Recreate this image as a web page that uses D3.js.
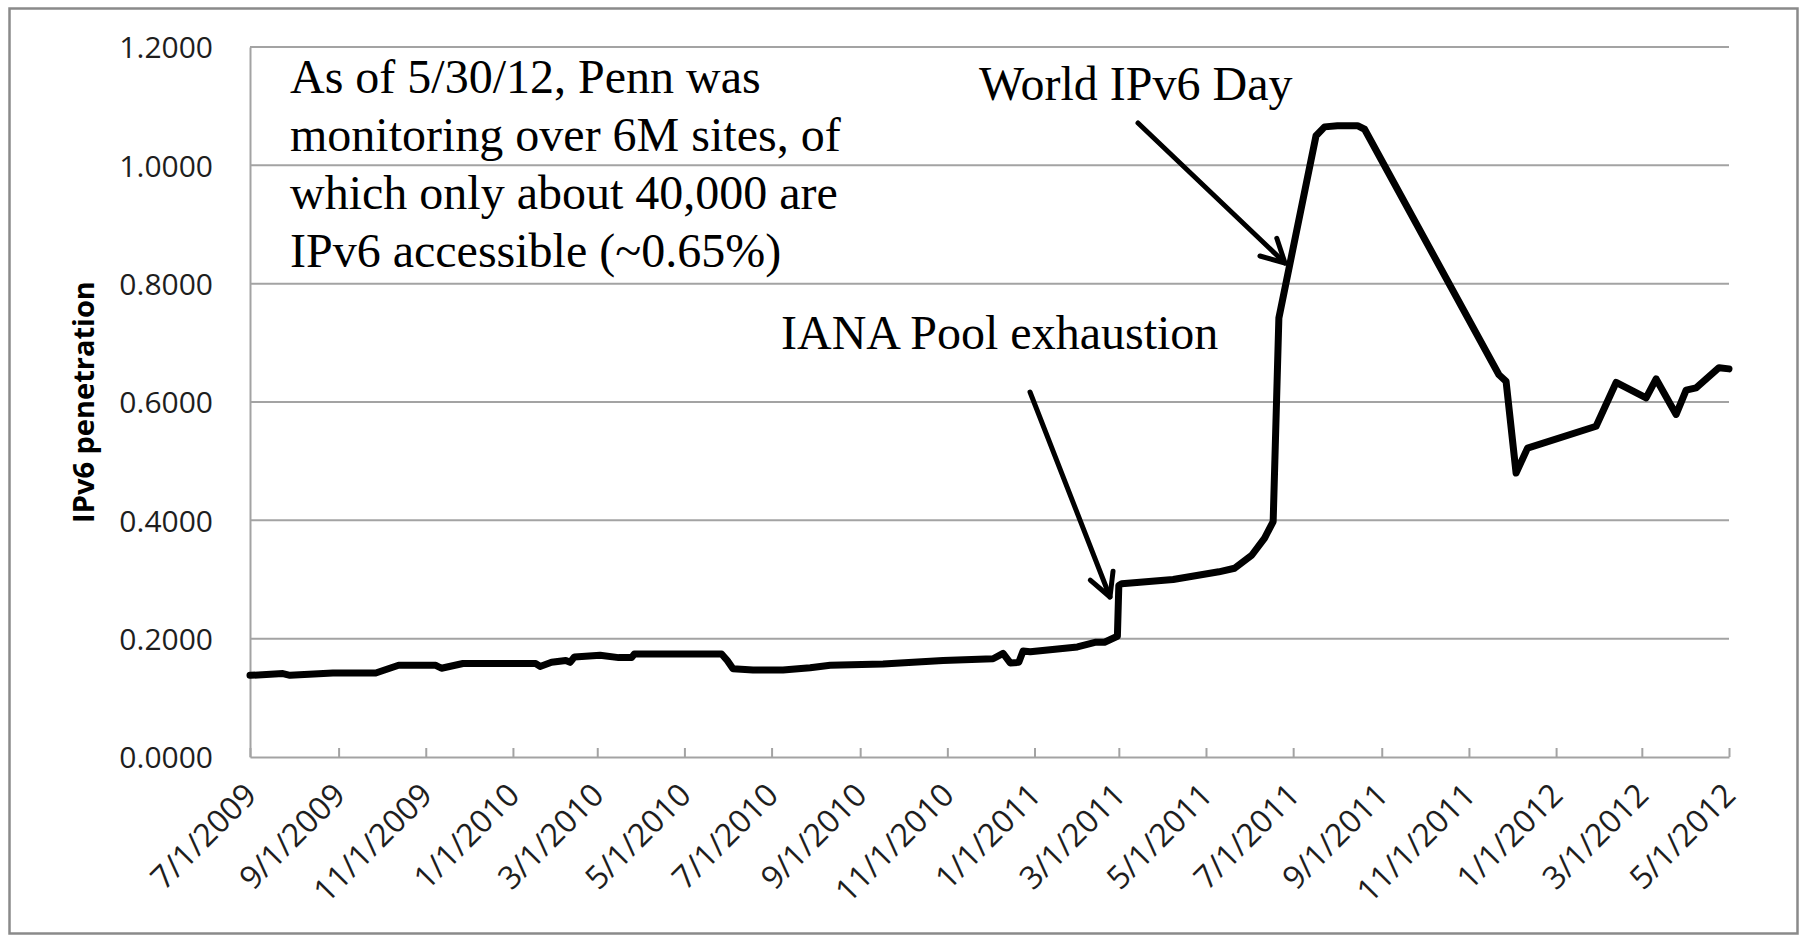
<!DOCTYPE html>
<html>
<head>
<meta charset="utf-8">
<script src="https://cdn.jsdelivr.net/npm/d3@7"></script>
<style>
  body { margin: 0; background: #fff; }
  svg { display: block; }
</style>
</head>
<body>
<svg id="chart" width="1800" height="936"></svg>
<script>
// ---------------- data ----------------
const xTickLabels = ["7/1/2009","9/1/2009","11/1/2009","1/1/2010","3/1/2010","5/1/2010",
  "7/1/2010","9/1/2010","11/1/2010","1/1/2011","3/1/2011","5/1/2011",
  "7/1/2011","9/1/2011","11/1/2011","1/1/2012","3/1/2012","5/1/2012"];
const yTickValues = [0, 0.2, 0.4, 0.6, 0.8, 1.0, 1.2];
const yTitle = "IPv6 penetration";

const dates = [
  "2009-07-01","2009-07-24","2009-07-29","2009-08-28","2009-09-27","2009-10-13",
  "2009-11-08","2009-11-12","2009-11-27","2010-01-17","2010-01-20","2010-01-28",
  "2010-02-07","2010-02-10","2010-02-13","2010-03-03","2010-03-16","2010-03-25",
  "2010-03-27","2010-05-27","2010-05-31","2010-06-04","2010-06-18","2010-07-09",
  "2010-07-28","2010-08-11","2010-09-17","2010-10-29","2010-12-03","2010-12-10",
  "2010-12-15","2010-12-21","2010-12-24","2010-12-29","2011-01-31","2011-02-13",
  "2011-02-19","2011-02-28","2011-03-01","2011-03-03","2011-04-08","2011-05-10",
  "2011-05-21","2011-06-02","2011-06-11","2011-06-17","2011-06-21","2011-07-17",
  "2011-07-23","2011-08-01","2011-08-15","2011-08-20","2011-11-22","2011-11-27",
  "2011-12-04","2011-12-12","2012-01-29","2012-02-12","2012-03-04","2012-03-11",
  "2012-03-25","2012-04-01","2012-04-08","2012-04-24","2012-05-01"];
const values = [
  0.138,0.141,0.138,0.142,0.142,0.155,
  0.155,0.150,0.158,0.158,0.153,0.160,
  0.163,0.160,0.169,0.172,0.168,0.168,
  0.174,0.174,0.163,0.149,0.147,0.147,
  0.151,0.155,0.157,0.163,0.166,0.175,
  0.159,0.160,0.179,0.178,0.186,0.194,
  0.194,0.204,0.290,0.293,0.300,0.313,
  0.319,0.341,0.370,0.398,0.742,1.050,
  1.065,1.067,1.067,1.061,0.646,0.635,
  0.480,0.522,0.559,0.633,0.607,0.639,
  0.579,0.620,0.624,0.658,0.656];

const noteLines = ["As of 5/30/12, Penn was", "monitoring over 6M sites, of",
  "which only about 40,000 are", "IPv6 accessible (~0.65%)"];
const worldLabel = "World IPv6 Day";
const ianaLabel = "IANA Pool exhaustion";

// ---------------- layout ----------------
const svg = d3.select("#chart");
const W = 1800, H = 936;
const plot = { left: 250, right: 1729, top: 47, bottom: 757 };
const gridColor = "#a3a3a3";
const tickFont = "'Open Sans', sans-serif";
const serif = "'Liberation Serif', 'Times New Roman', serif";

svg.append("rect").attr("x", 0).attr("y", 0).attr("width", W).attr("height", H).attr("fill", "#fff");
svg.append("rect").attr("x", 9.5).attr("y", 8.5).attr("width", 1788).attr("height", 925)
  .attr("fill", "none").attr("stroke", "#8a8a8a").attr("stroke-width", 2.5);

const parseTick = d3.timeParse("%m/%d/%Y");
const parseDate = d3.timeParse("%Y-%m-%d");
const tickDates = xTickLabels.map(parseTick);
const data = dates.map((d, i) => ({ date: parseDate(d), value: values[i] }));

const x = d3.scaleTime()
  .domain([tickDates[0], tickDates[tickDates.length - 1]])
  .range([plot.left, plot.right]);
const y = d3.scaleLinear().domain([0, 1.2]).range([plot.bottom, plot.top]);

// gridlines
svg.append("g").selectAll("line").data(yTickValues.filter(v => v > 0)).join("line")
  .attr("x1", plot.left).attr("x2", plot.right)
  .attr("y1", d => y(d)).attr("y2", d => y(d))
  .attr("stroke", gridColor).attr("stroke-width", 2);

// y axis
const yAxis = svg.append("g").attr("transform", `translate(${plot.left},0)`)
  .call(d3.axisLeft(y).tickValues(yTickValues).tickFormat(d3.format(".4f"))
    .tickSize(0).tickPadding(37));
yAxis.select(".domain").attr("stroke", gridColor).attr("stroke-width", 2);
yAxis.selectAll("text").attr("font-family", tickFont).attr("font-size", 30)
  .attr("fill", "#1e1e1e").attr("dy", "0.36em");

// x axis
const xAxis = svg.append("g").attr("transform", `translate(0,${plot.bottom})`)
  .call(d3.axisBottom(x).tickValues(tickDates).tickFormat((d, i) => xTickLabels[i])
    .tickSizeInner(-9).tickSizeOuter(0));
xAxis.select(".domain").attr("stroke", gridColor).attr("stroke-width", 2);
xAxis.selectAll(".tick line").attr("stroke", gridColor).attr("stroke-width", 2);
xAxis.selectAll("text")
  .attr("font-family", tickFont).attr("font-size", 32).attr("fill", "#1e1e1e")
  .attr("x", 0).attr("y", 0).attr("dy", 0)
  .attr("text-anchor", "end")
  .attr("transform", "translate(8,40) rotate(-45)");

// y title
svg.append("text")
  .attr("transform", "translate(82,402) rotate(-90)")
  .attr("text-anchor", "middle").attr("dominant-baseline", "central")
  .attr("font-family", tickFont).attr("font-weight", "bold").attr("font-size", 29)
  .attr("fill", "#000").text(yTitle);

// data line
svg.append("path").datum(data)
  .attr("d", d3.line().x(d => x(d.date)).y(d => y(d.value)))
  .attr("fill", "none").attr("stroke", "#000").attr("stroke-width", 7)
  .attr("stroke-linejoin", "round").attr("stroke-linecap", "round");

// annotations
const note = svg.append("text").attr("font-family", serif).attr("font-size", 48).attr("fill", "#000");
noteLines.forEach((t, i) => note.append("tspan").attr("x", 290).attr("y", 93 + i * 58).text(t));

svg.append("text").attr("x", 979).attr("y", 100).attr("font-family", serif)
  .attr("font-size", 48).attr("fill", "#000").text(worldLabel);
svg.append("text").attr("x", 781).attr("y", 349).attr("font-family", serif)
  .attr("font-size", 48).attr("fill", "#000").text(ianaLabel);

function arrow(x1, y1, x2, y2) {
  const g = svg.append("g").attr("stroke", "#000").attr("stroke-width", 5)
    .attr("fill", "none").attr("stroke-linecap", "round").attr("stroke-linejoin", "round");
  g.append("line").attr("x1", x1).attr("y1", y1).attr("x2", x2).attr("y2", y2);
  const ang = Math.atan2(y1 - y2, x1 - x2);
  const a = 28 * Math.PI / 180, L = 26;
  const p1 = [x2 + L * Math.cos(ang + a), y2 + L * Math.sin(ang + a)];
  const p2 = [x2 + L * Math.cos(ang - a), y2 + L * Math.sin(ang - a)];
  g.append("path").attr("d", `M${p1[0]},${p1[1]}L${x2},${y2}L${p2[0]},${p2[1]}`);
}
arrow(1138, 123, 1285, 263);
arrow(1030, 392, 1110, 597);
</script>
</body>
</html>
